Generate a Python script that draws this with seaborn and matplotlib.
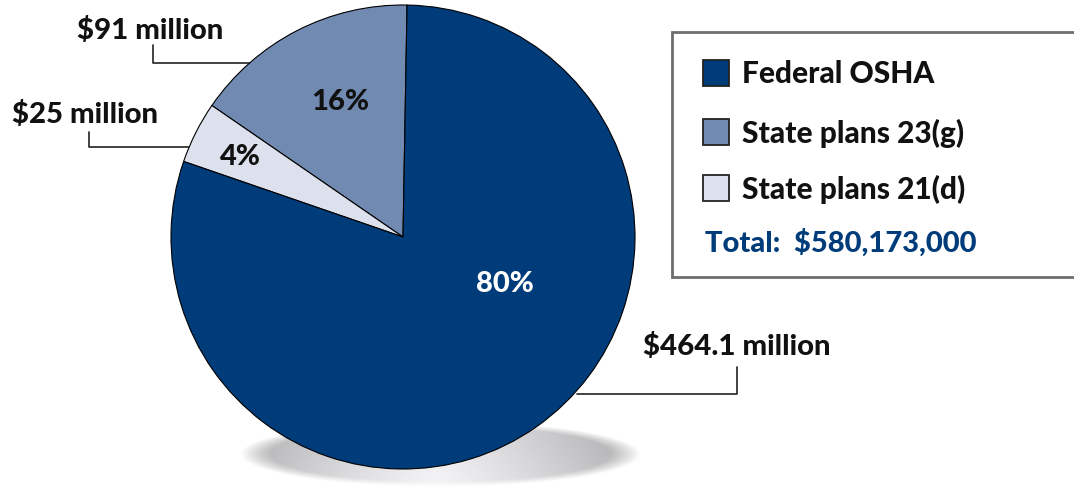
import numpy as np
import seaborn as sns
import matplotlib.pyplot as plt
from matplotlib.patches import Rectangle

sns.set_style("white")
plt.rcParams['font.family'] = ['Lato', 'DejaVu Sans']

# data (millions of dollars)
labels = ["State plans 23(g)", "State plans 21(d)", "Federal OSHA"]
amounts = [91, 25, 464.1]
amount_labels = ["$91 million", "$25 million", "$464.1 million"]
legend_order = ["Federal OSHA", "State plans 23(g)", "State plans 21(d)"]
total_text = "Total:  $580,173,000"

colors = sns.color_palette(["#708ab2", "#dce1ed", "#003b7a"])
navy = "#003b7a"
WT = 900

W, H = 1074, 489
fig = plt.figure(figsize=(W / 100, H / 100), dpi=100)
ax = fig.add_axes([0, 0, 1, 1])

cx, cy, R = 403, 238, 232

# soft shadow under the pie
sx, sy, sa, sb = 440, 455, 200, 33
xx, yy = np.meshgrid(np.linspace(sx - sa, sx + sa, 400), np.linspace(sy - sb, sy + sb, 80))
rr = np.sqrt(((xx - sx) / sa) ** 2 + ((yy - sy) / sb) ** 2)
alpha = np.clip((1 - rr) / 0.15, 0, 1)
grey = 0.94 - 0.24 * np.clip(np.abs(xx - 435) / sa, 0, 1) ** 1.2 + 0.03 * (yy - sy) / sb
img = np.dstack([grey * 0.99, grey * 0.99, grey, alpha])
ax.imshow(img, extent=(sx - sa, sx + sa, sy + sb, sy - sb), zorder=0, interpolation="bilinear")

wedges, _ = ax.pie(amounts, colors=colors, startangle=-89, counterclock=False,
                   center=(cx, cy), radius=R,
                   wedgeprops=dict(edgecolor="black", linewidth=0.8))
for w in wedges:
    w.set_zorder(2)

total = sum(amounts)
pcts = [f"{round(a / total * 100):.0f}%" for a in amounts]
pct_pos = [(340, 102), (240, 157), (505, 284)]
pct_col = ["#111111", "#111111", "white"]
for p, (x, y), c in zip(pcts, pct_pos, pct_col):
    ax.text(x, y, p, ha="center", va="center", fontsize=21, fontweight=WT, color=c, zorder=3)

# amount labels with leader lines
lab_pos = [(150, 30), (85, 115), (737, 346)]
leaders = [[(153, 46), (153, 64), (256, 64)],
           [(89, 133), (89, 148), (192, 148)],
           [(737, 368), (737, 395), (577, 395)]]
for t, (x, y), pts in zip(amount_labels, lab_pos, leaders):
    ax.text(x, y, t, ha="center", va="center", fontsize=21.2, fontweight=WT, color="#111111")
    px, py = zip(*pts)
    ax.plot(px, py, color="#222222", lw=1.2, zorder=1)

# legend box
ax.add_patch(Rectangle((672, 33), 420, 245, facecolor="white", edgecolor="#6e6e6e", lw=2, zorder=1))
row_y = [74, 133, 189]
for lab, y in zip(legend_order, row_y):
    c = colors[labels.index(lab)]
    ax.add_patch(Rectangle((703, y - 13), 26, 26, facecolor=c, edgecolor="#222222", lw=1.3, zorder=2))
    ax.text(742, y, lab, ha="left", va="center", fontsize=21.5, fontweight=WT, color="#111111")
ax.text(705, 243, total_text, ha="left", va="center", fontsize=21, fontweight=WT, color=navy)

ax.set_xlim(0, W)
ax.set_ylim(H, 0)
ax.set_aspect("equal")
ax.axis("off")

fig.savefig("out.png", dpi=100)
